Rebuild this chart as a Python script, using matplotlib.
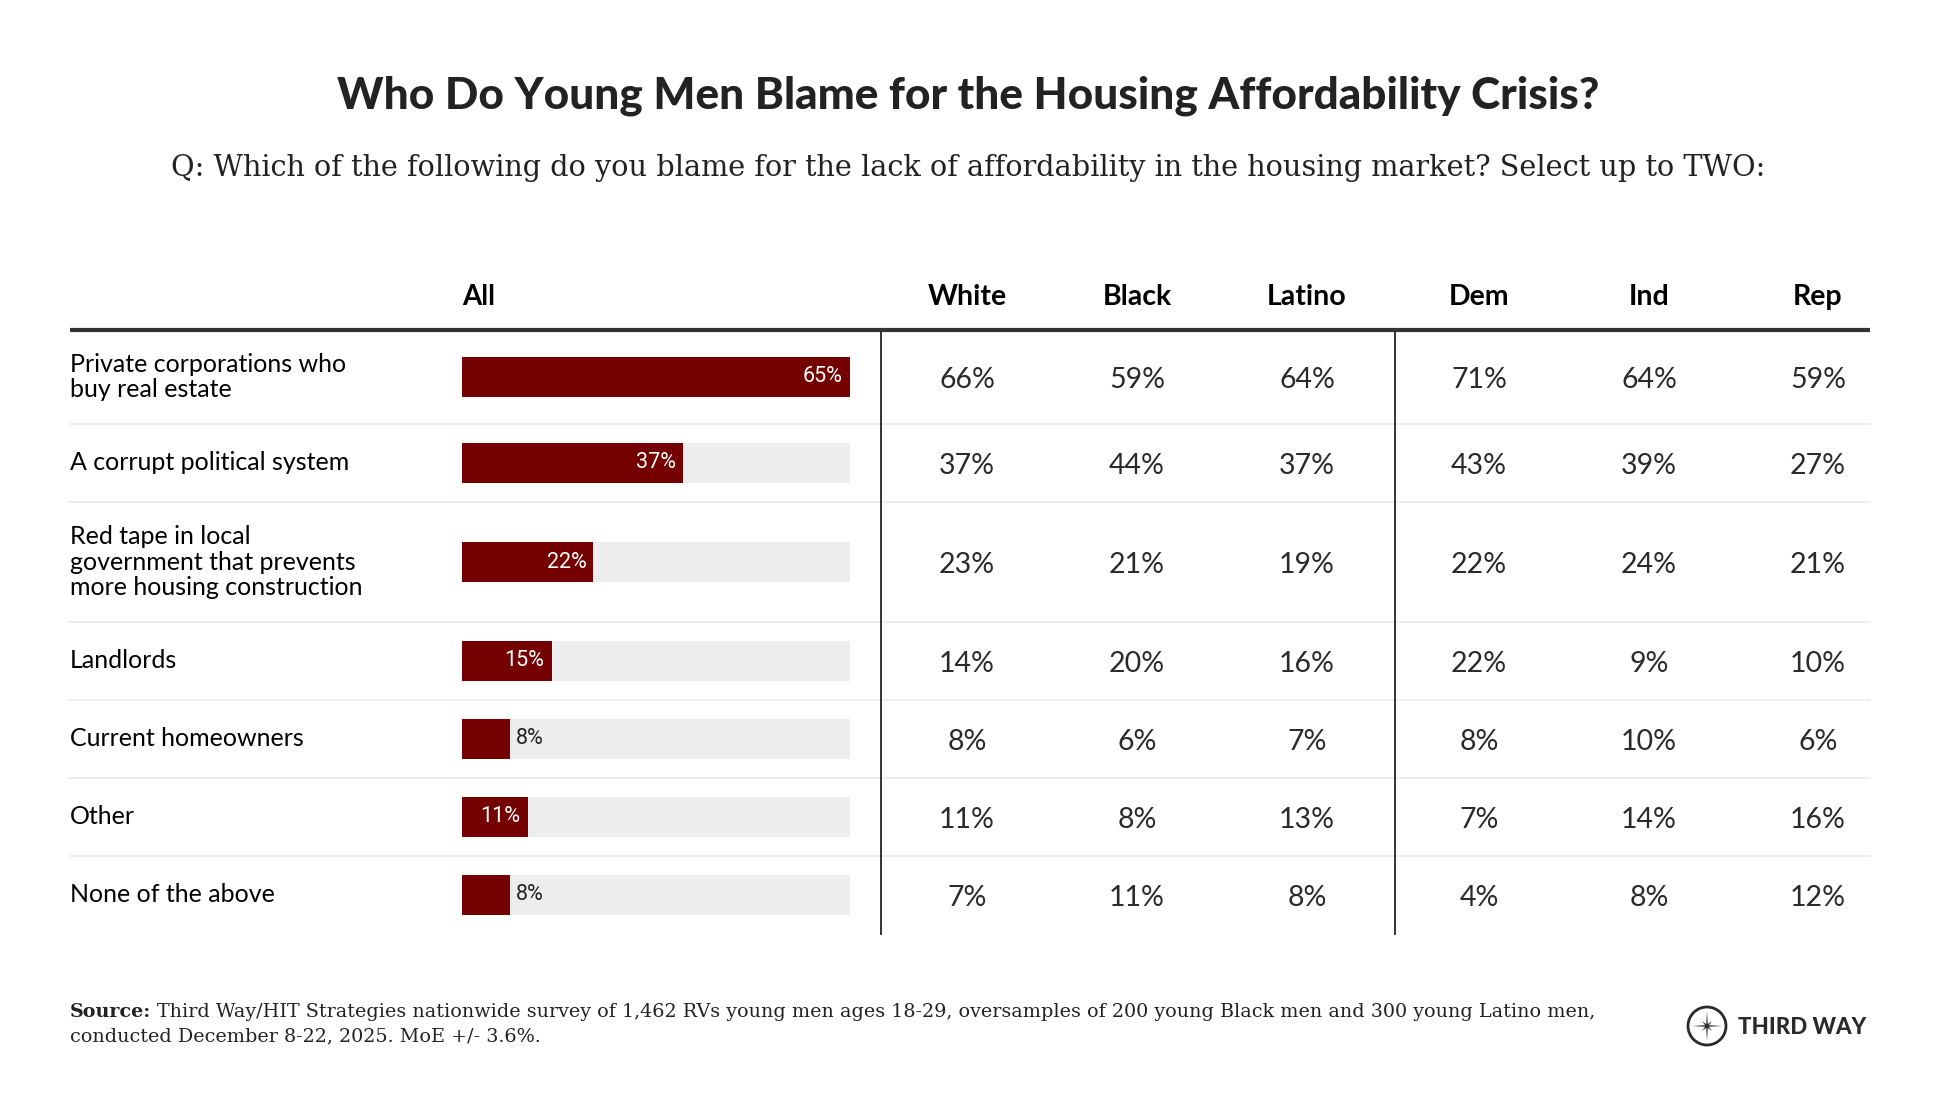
import matplotlib.pyplot as plt
from matplotlib.patches import Circle, Polygon
import numpy as np

# data
categories = [
    "Private corporations who\nbuy real estate",
    "A corrupt political system",
    "Red tape in local\ngovernment that prevents\nmore housing construction",
    "Landlords",
    "Current homeowners",
    "Other",
    "None of the above",
]
all_vals = [65, 37, 22, 15, 8, 11, 8]
groups = ["White", "Black", "Latino", "Dem", "Ind", "Rep"]
white = [66, 37, 23, 14, 8, 11, 7]
black = [59, 44, 21, 20, 6, 8, 11]
latino = [64, 37, 19, 16, 7, 13, 8]
dem = [71, 43, 22, 22, 8, 7, 4]
ind = [64, 39, 24, 9, 10, 14, 8]
rep = [59, 27, 21, 10, 6, 16, 12]
group_vals = [white, black, latino, dem, ind, rep]

title = "Who Do Young Men Blame for the Housing Affordability Crisis?"
subtitle = ("Q: Which of the following do you blame for the lack of affordability "
            "in the housing market? Select up to TWO:")
source_1 = ("Third Way/HIT Strategies nationwide survey of 1,462 RVs young men ages 18-29, "
            "oversamples of 200 young Black men and 300 young Latino men,")
source_2 = "conducted December 8-22, 2025. MoE +/- 3.6%."

DARK = "#222222"
RED = "#750000"
TRACK = "#ededed"
SEP = "#ebebeb"

W, H = 1940, 1116
fig = plt.figure(figsize=(W / 100, H / 100), dpi=100)
ax = fig.add_axes([0, 0, 1, 1])
ax.set_xlim(0, W)
ax.set_ylim(H, 0)
ax.axis("off")

# layout (pixels)
left, right = 70, 1870
top = 330
row_h = {1: 78, 2: 94, 3: 120}
bar_x0, bar_x1 = 462, 850
col_x = [967, 1137, 1307, 1479, 1649, 1818]
vlines = [881, 1395]

heights = [row_h[c.count("\n") + 1] for c in categories]
edges = top + np.concatenate([[0], np.cumsum(heights)])
centers = (edges[:-1] + edges[1:]) / 2

ax.text(W / 2 - 2, 96, title, ha="center", va="center", fontsize=31.8,
        fontweight="black", family="Lato", color=DARK)
ax.text(W / 2 - 2, 168, subtitle, ha="center", va="center", fontsize=20.7,
        family="DejaVu Serif", color=DARK)

# header
ax.text(bar_x0, 297, "All", ha="left", va="center", fontsize=20,
        fontweight="bold", family="Lato", color="black")
for x, g in zip(col_x, groups):
    ax.text(x, 297, g, ha="center", va="center", fontsize=20.5,
            fontweight="bold", family="Lato", color="black")
ax.plot([left, right], [top, top], color="#333333", lw=3, solid_capstyle="butt")

# row separators
for y in edges[1:-1]:
    ax.plot([left, right], [y, y], color=SEP, lw=1.2, zorder=1)
for x in vlines:
    ax.plot([x, x], [top + 2, edges[-1]], color="#333333", lw=1.4)

# row labels and values
for i, cat in enumerate(categories):
    ax.text(left, centers[i], cat, ha="left", va="center", fontsize=18,
            family="Lato", color="black", linespacing=1.15)
    for x, vals in zip(col_x, group_vals):
        ax.text(x, centers[i] + 3, f"{vals[i]}%", ha="center", va="center",
                fontsize=20.5, family="Lato", color="#2a2a2a")

# bars
bx = fig.add_axes([bar_x0 / W, 1 - edges[-1] / H, (bar_x1 - bar_x0) / W,
                   (edges[-1] - top) / H])
bx.set_xlim(0, max(all_vals))
bx.set_ylim(edges[-1], top)
bx.axis("off")
bx.barh(centers, [max(all_vals)] * len(all_vals), height=40, color=TRACK)
bx.barh(centers, all_vals, height=40, color=RED)
px = max(all_vals) / (bar_x1 - bar_x0)
for y, v in zip(centers, all_vals):
    if v >= 10:
        bx.text(v - 7 * px, y, f"{v}%", ha="right", va="center", fontsize=15.5,
                family="Roboto", color="white")
    else:
        bx.text(v + 6 * px, y, f"{v}%", ha="left", va="center", fontsize=15.5,
                family="Roboto", color=DARK)

# footer
lbl = ax.text(left, 1012, "Source:", ha="left", va="center", fontsize=13.8,
              family="DejaVu Serif", fontweight="bold", color=DARK)
fig.canvas.draw()
bb = lbl.get_window_extent(renderer=fig.canvas.get_renderer())
ax.text(left + bb.width + 6, 1012, source_1, ha="left", va="center", fontsize=13.8,
        family="DejaVu Serif", color=DARK)
ax.text(left, 1036, source_2, ha="left", va="center", fontsize=13.8,
        family="DejaVu Serif", color=DARK)

# logo
cx, cy = 1707, 1026
ax.add_patch(Circle((cx, cy), 19, fill=False, lw=2, ec="#2a2a2a"))
pts = []
for k in range(16):
    ang = np.pi / 2 - k * np.pi / 8
    r = [15, 2, 7, 2][k % 4]
    pts.append((cx + r * np.cos(ang), cy - r * np.sin(ang)))
ax.add_patch(Polygon(pts, closed=True, color="#2a2a2a", lw=0))
ax.text(1738, 1027, "THIRD WAY", ha="left", va="center", fontsize=16,
        fontweight="black", family="Lato", color="#2a2a2a")

fig.savefig("out.png", dpi=100, facecolor="white")
